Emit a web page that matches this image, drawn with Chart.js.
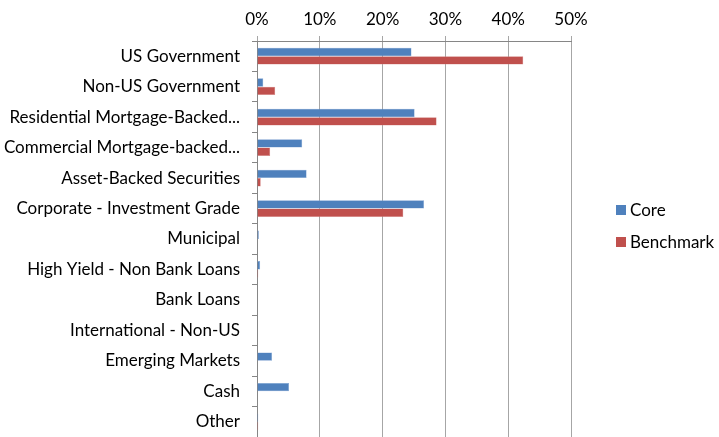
<!DOCTYPE html>
<html>
<head>
<meta charset="utf-8">
<script src="https://cdn.jsdelivr.net/npm/chart.js@4"></script>
<style>
  html, body { margin: 0; padding: 0; background: #fff; overflow: hidden; }
  .chart-wrap { width: 719px; height: 437px; position: relative; }
</style>
</head>
<body>
<div class="chart-wrap"><canvas id="chart"></canvas></div>
<script>
const categories = [
  'US Government', 'Non-US Government', 'Residential Mortgage-Backed...',
  'Commercial Mortgage-backed...', 'Asset-Backed Securities',
  'Corporate - Investment Grade', 'Municipal', 'High Yield - Non Bank Loans',
  'Bank Loans', 'International - Non-US', 'Emerging Markets', 'Cash', 'Other'
];
const coreValues = [24.6, 1.0, 25.1, 7.2, 7.9, 26.6, 0.3, 0.5, 0, 0, 2.4, 5.1, 0.2];
const benchmarkValues = [42.4, 2.9, 28.6, 2.1, 0.6, 23.3, 0, 0.2, 0, 0, 0, 0, 0.2];
const seriesNames = ['Core', 'Benchmark'];
const tickValues = [0, 10, 20, 30, 40, 50];

const FONT = 'Lato, "Noto Sans", sans-serif';

// legend drawn to the right of the plot area
const sideLegend = {
  id: 'sideLegend',
  afterDraw(chart) {
    const ctx = chart.ctx;
    const area = chart.chartArea;
    ctx.save();
    ctx.font = '17px ' + FONT;
    ctx.textBaseline = 'middle';
    chart.data.datasets.forEach((ds, i) => {
      const y = 210 + i * 32;
      const x = area.right + 45;
      ctx.fillStyle = ds.backgroundColor;
      ctx.fillRect(x, y - 5, 10, 10);
      ctx.fillStyle = '#000';
      ctx.fillText(ds.label, x + 14, y + 1);
    });
    ctx.restore();
  }
};

new Chart(document.getElementById('chart'), {
  type: 'bar',
  data: {
    labels: categories,
    datasets: [
      { label: seriesNames[0], data: coreValues, backgroundColor: '#4F81BD', borderColor: '#7FA3D3', borderWidth: 0.5 },
      { label: seriesNames[1], data: benchmarkValues, backgroundColor: '#C0504D', borderColor: '#D88A88', borderWidth: 0.5 },
    ],
  },
  options: {
    indexAxis: 'y',
    responsive: true,
    maintainAspectRatio: false,
    animation: false,
    layout: { padding: { left: 0, top: 0, right: 148, bottom: 0 } },
    datasets: { bar: { categoryPercentage: 0.55, barPercentage: 1 } },
    scales: {
      x: {
        position: 'top',
        min: 0,
        max: 50,
        afterBuildTicks: (s) => { s.ticks = tickValues.map((v) => ({ value: v })); },
        afterFit: (s) => { s.height = 41; s.paddingLeft = 0; s.paddingRight = 0; },
        grid: { color: '#a6a6a6', tickLength: 5, lineWidth: 1 },
        border: { color: '#868686' },
        ticks: {
          color: '#000',
          padding: 6,
          font: { family: FONT, size: 17 },
          callback: (v) => v + '%',
        },
      },
      y: {
        afterFit: (s) => { s.width = 257; s.paddingTop = 0; s.paddingBottom = 0; },
        grid: { drawOnChartArea: false, tickLength: 5, color: '#868686' },
        border: { color: '#868686' },
        ticks: {
          color: '#000',
          padding: 12,
          autoSkip: false,
          font: { family: FONT, size: 17 },
        },
      },
    },
    plugins: {
      legend: { display: false },
      tooltip: { enabled: false },
    },
  },
  plugins: [sideLegend],
});
</script>
</body>
</html>
